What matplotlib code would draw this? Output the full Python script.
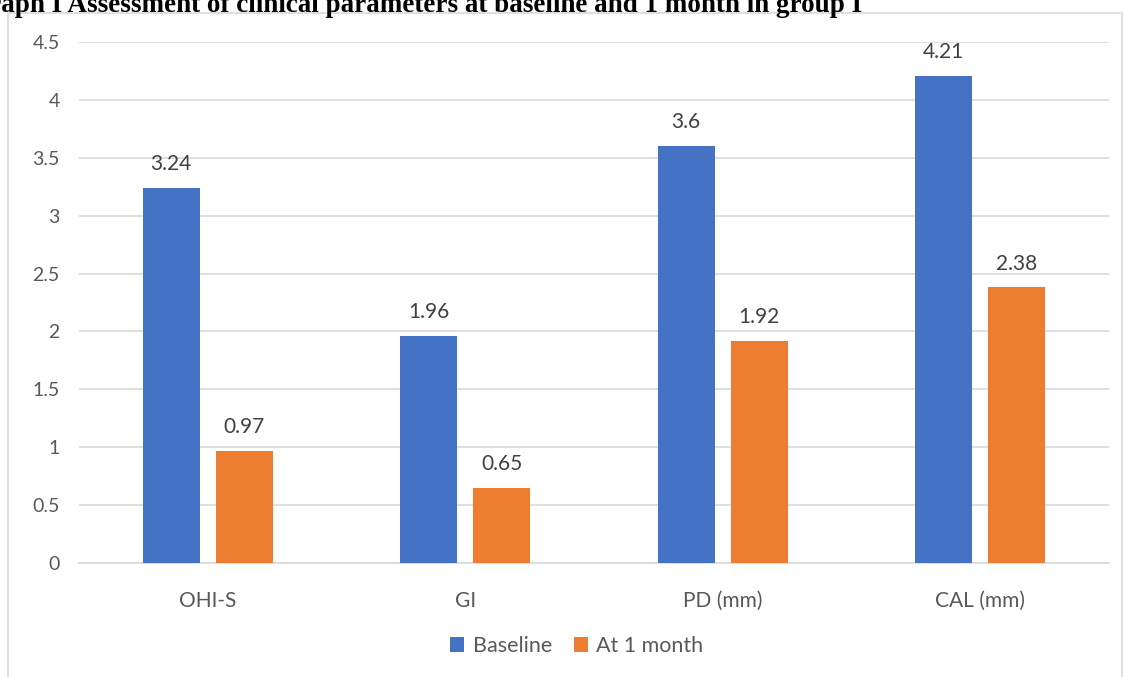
import matplotlib
matplotlib.use("Agg")
import matplotlib.pyplot as plt
import numpy as np
from matplotlib.patches import Rectangle

categories = ["OHI-S", "GI", "PD (mm)", "CAL (mm)"]
baseline = [3.24, 1.96, 3.6, 4.21]
one_month = [0.97, 0.65, 1.92, 2.38]
series_names = ["Baseline", "At 1 month"]
yticks = [0, 0.5, 1, 1.5, 2, 2.5, 3, 3.5, 4, 4.5]
ytick_labels = ["0", "0.5", "1", "1.5", "2", "2.5", "3", "3.5", "4", "4.5"]

blue = "#4472c4"
orange = "#ed7d31"
grey_txt = "#595959"

plt.rcParams["font.family"] = ["Lato", "DejaVu Sans"]

W, H = 1123, 677
fig = plt.figure(figsize=(W / 100, H / 100), dpi=100)

# chart frame
fig.patches.append(Rectangle((8 / W, -0.1), (W - 9) / W, 1.1 - 13 / H,
                             transform=fig.transFigure, fill=False,
                             edgecolor="#d9d9d9", linewidth=1.2))

fig.text(-32 / W, 1 - 12 / H,
         "Graph I Assessment of clinical parameters at baseline and 1 month in group I",
         fontsize=19.5, fontweight="bold", family="Liberation Serif",
         ha="left", va="baseline", color="black")

ax = fig.add_axes([79 / W, 1 - 563 / H, 1030 / W, 521 / H])
x = np.arange(len(categories))
w = 0.221
off = 0.142
b1 = ax.bar(x - off, baseline, w, color=blue, zorder=3)
b2 = ax.bar(x + off, one_month, w, color=orange, zorder=3)

for bars, vals in ((b1, baseline), (b2, one_month)):
    for r, v in zip(bars, vals):
        ax.annotate(f"{v:g}", (r.get_x() + r.get_width() / 2, v),
                    xytext=(0, 10), textcoords="offset points",
                    ha="center", va="bottom", fontsize=15, color="#404040")

ax.set_xlim(-0.5, len(categories) - 0.5)
ax.set_ylim(0, 4.5)
ax.set_yticks(yticks)
ax.set_yticklabels(ytick_labels)
ax.set_xticks(x)
ax.set_xticklabels(categories)
ax.yaxis.grid(True, color="#d9d9d9", linewidth=1.2, zorder=0)
ax.tick_params(axis="both", length=0, labelsize=14, labelcolor=grey_txt)
ax.tick_params(axis="x", labelsize=15, pad=20)
ax.tick_params(axis="y", pad=14)
for s in ("top", "right", "left"):
    ax.spines[s].set_visible(False)
ax.spines["bottom"].set_color("#d9d9d9")
ax.spines["bottom"].set_linewidth(1.2)

leg = fig.legend([b1, b2], series_names, loc="center",
                 bbox_to_anchor=(577 / W, 1 - 646 / H), ncol=2, frameon=False,
                 fontsize=15.5, handlelength=0.65, handleheight=0.65,
                 handletextpad=0.4, columnspacing=1.0)
for t in leg.get_texts():
    t.set_color(grey_txt)

fig.savefig("out.png", dpi=100)
